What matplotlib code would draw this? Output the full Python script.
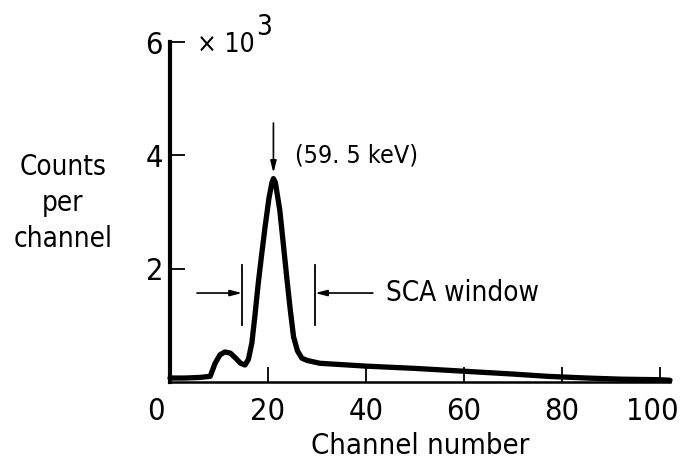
import numpy as np
import matplotlib
matplotlib.use('Agg')
import matplotlib.pyplot as plt
import matplotlib.transforms as mtransforms

plt.rcParams['font.family'] = ['DejaVu Sans']
plt.rcParams['font.stretch'] = 'condensed'

# spectrum (counts in units of 10^3)
channel = [0, 3, 6, 8.2, 9.2, 10.2, 11.2, 12.3, 13.4, 14.4, 15.3, 16.0, 16.7, 17.3,
           18.0, 18.7, 19.4, 20.2, 20.8, 21.1, 21.5, 22.4, 23.1, 23.8, 24.5, 25.2,
           26.0, 26.9, 28.0, 30.6, 40, 50, 60, 70, 77, 85, 92, 100, 102]
counts = [0.07, 0.07, 0.08, 0.1, 0.33, 0.48, 0.53, 0.51, 0.42, 0.33, 0.30, 0.40, 0.69, 1.15,
          1.74, 2.25, 2.74, 3.25, 3.52, 3.59, 3.52, 3.03, 2.45, 1.86, 1.30, 0.80,
          0.55, 0.42, 0.38, 0.33, 0.28, 0.24, 0.19, 0.14, 0.10, 0.07, 0.05, 0.04, 0.03]

xticks = [0, 20, 40, 60, 80, 100]
yticks = [2, 4, 6]
peak_ch = 21.1
peak_val = 3.59
sca_lo = 14.7
sca_hi = 29.6

fig = plt.figure(figsize=(6.81, 4.68), dpi=100)
ax = fig.add_axes([170/681, 86/468, 500/681, 340/468])

ax.plot(channel, counts, color='black', lw=3.8, solid_joinstyle='round',
        solid_capstyle='round', clip_on=False)

ax.set_xlim(0, 102)
ax.set_ylim(0, 6)
for s in ['top', 'right']:
    ax.spines[s].set_visible(False)
ax.spines['left'].set_linewidth(3.0)
ax.spines['bottom'].set_linewidth(1.8)

ax.set_xticks(xticks)
ax.set_xticklabels([str(t) for t in xticks], fontsize=22)
ax.set_yticks(yticks)
ax.set_yticklabels([str(t) for t in yticks], fontsize=22)
ax.xaxis.set_tick_params(direction='in', length=11, width=1.3, pad=11)
ax.yaxis.set_tick_params(direction='in', length=11, width=1.3, pad=5)
ax.xaxis.get_major_ticks()[0].tick1line.set_visible(False)
# the "0" label sits left of the axis corner, "100" a bit in from the edge
labs = ax.get_xticklabels()
for lab, dx in [(labs[0], -14), (labs[-1], -8)]:
    off = mtransforms.ScaledTranslation(dx/100, 0, fig.dpi_scale_trans)
    lab.set_transform(lab.get_transform() + off)

ax.set_xlabel('Channel number', fontsize=21, labelpad=4)

fig.text(63/681, 1 - 203/468, 'Counts\nper\nchannel', ha='center', va='center',
         fontsize=20, linespacing=1.35)

ax.text(5.5, 5.82, '× 10', fontsize=19, ha='left', va='baseline', clip_on=False)
ax.text(17.6, 6.12, '3', fontsize=20, ha='left', va='baseline', clip_on=False)

arrow = dict(arrowstyle='-|>,head_length=0.7,head_width=0.18', color='black', lw=1.2,
             shrinkA=0, shrinkB=0)

# peak marker
ax.annotate('', xy=(peak_ch, peak_val + 0.1), xytext=(peak_ch, 4.57), arrowprops=arrow)
ax.text(25.5, 4.0, '(59. 5 keV)', fontsize=18, ha='left', va='center')

# SCA window markers
for c in [sca_lo, sca_hi]:
    ax.plot([c, c], [1.0, 2.06], color='black', lw=1.3)
ax.annotate('', xy=(sca_lo, 1.57), xytext=(5.5, 1.57), arrowprops=arrow)
ax.annotate('', xy=(sca_hi, 1.57), xytext=(41.4, 1.57), arrowprops=arrow)
ax.text(44, 1.57, 'SCA window', fontsize=20, ha='left', va='center')

fig.savefig('out.png', dpi=100)
